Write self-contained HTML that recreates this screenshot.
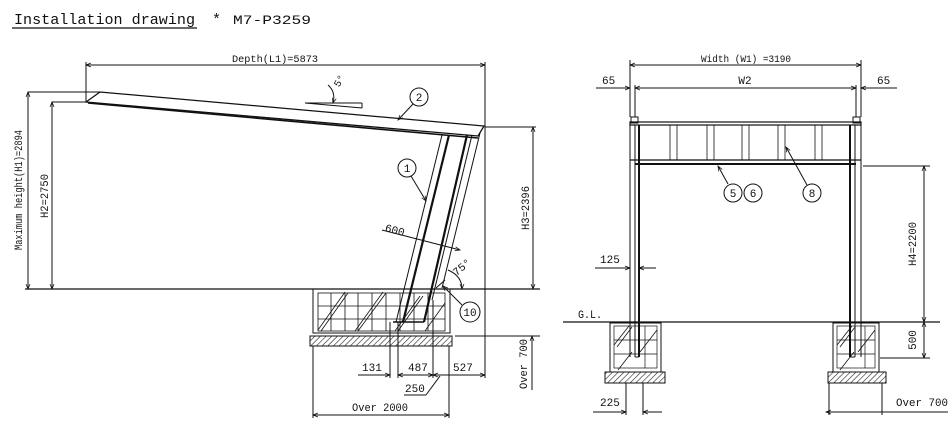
<!DOCTYPE html>
<html><head><meta charset="utf-8"><style>
html,body{margin:0;padding:0;background:#fff;}
svg{display:block;}
text{font-family:"Liberation Mono",monospace;fill:#111;}
</style></head><body>
<svg width="952" height="427" viewBox="0 0 952 427" xmlns="http://www.w3.org/2000/svg">
<defs>
<pattern id="h" width="4" height="4" patternUnits="userSpaceOnUse" patternTransform="rotate(45)">
<line x1="0" y1="0" x2="0" y2="4" stroke="#222" stroke-width="1.2"/></pattern>
<marker id="a" viewBox="0 0 10 10" refX="10" refY="5" markerWidth="7" markerHeight="5" orient="auto-start-reverse"><path d="M0,1 L10,5 L0,9" fill="none" stroke="#111" stroke-width="1.5"/></marker>
</defs>
<!-- title -->
<text x="14" y="24" font-size="15" textLength="181" lengthAdjust="spacingAndGlyphs">Installation drawing</text>
<line x1="12" y1="28" x2="197" y2="28" stroke="#111" stroke-width="1.2"/>
<text x="212" y="24" font-size="15">*</text>
<text x="233" y="24" font-size="13" textLength="78" lengthAdjust="spacingAndGlyphs">M7-P3259</text>

<g stroke="#111" fill="none" stroke-width="1">
<!-- LEFT VIEW -->
<line x1="86" y1="65" x2="485" y2="65" marker-start="url(#a)" marker-end="url(#a)"/>
<line x1="86" y1="62" x2="86" y2="102"/>
<line x1="485" y1="62" x2="485" y2="378"/>
<!-- roof -->
<path d="M86,102 L100,92 L484,126 L478,136 Z" stroke-width="1.3"/>
<line x1="88" y1="103" x2="478" y2="138" stroke-width="1.6"/>
<!-- heights -->
<line x1="28" y1="92" x2="100" y2="92"/>
<line x1="28" y1="92" x2="28" y2="289" marker-start="url(#a)" marker-end="url(#a)"/>
<line x1="52" y1="102" x2="86" y2="102"/>
<line x1="52" y1="102" x2="52" y2="289" marker-start="url(#a)" marker-end="url(#a)"/>
<line x1="25" y1="289" x2="540" y2="289" stroke-width="1.3"/>
<line x1="485" y1="127" x2="536" y2="127"/>
<line x1="533" y1="127" x2="533" y2="289" marker-start="url(#a)" marker-end="url(#a)"/>
<!-- 5 deg mark -->
<line x1="305" y1="103" x2="362" y2="103"/>
<line x1="305" y1="103" x2="362" y2="108"/>
<line x1="362" y1="103" x2="362" y2="108"/>
<path d="M328,85 Q336,92 333,103" marker-end="url(#a)"/>
<!-- posts -->
<line x1="442" y1="135" x2="396" y2="322"/>
<line x1="449" y1="135" x2="403" y2="322" stroke-width="2.2"/>
<line x1="467" y1="135" x2="424" y2="322" stroke-width="2.2"/>
<line x1="472" y1="135" x2="432" y2="300"/>
<line x1="480" y1="133" x2="442" y2="288"/>
<line x1="436" y1="288" x2="445" y2="280"/>
<!-- foundation -->
<rect x="313" y="289" width="137" height="44"/>
<rect x="318" y="293" width="127" height="38" stroke-width="0.8"/>
<g stroke-width="0.8">
<line x1="318" y1="306" x2="445" y2="306"/><line x1="318" y1="319" x2="445" y2="319"/>
<line x1="331" y1="293" x2="331" y2="331"/><line x1="345" y1="293" x2="345" y2="331"/><line x1="358" y1="293" x2="358" y2="331"/><line x1="372" y1="293" x2="372" y2="331"/><line x1="386" y1="293" x2="386" y2="331"/><line x1="400" y1="293" x2="400" y2="331"/><line x1="414" y1="293" x2="414" y2="331"/><line x1="428" y1="293" x2="428" y2="331"/>
<line x1="318" y1="330" x2="345" y2="292"/><line x1="321" y1="331" x2="348" y2="293"/>
<line x1="355" y1="331" x2="383" y2="292"/><line x1="358" y1="331" x2="386" y2="293"/>
<line x1="395" y1="331" x2="420" y2="296"/><line x1="398" y1="331" x2="423" y2="296"/>
<line x1="425" y1="331" x2="445" y2="303"/>
</g>
<line x1="393" y1="322" x2="424" y2="322" stroke-width="1.6"/>
<rect x="310" y="336" width="142" height="10" fill="url(#h)"/>
<!-- left dims -->
<line x1="390" y1="322" x2="390" y2="378"/><line x1="398" y1="322" x2="398" y2="378"/><line x1="433" y1="300" x2="433" y2="378"/>
<line x1="358" y1="375" x2="390" y2="375" marker-end="url(#a)"/>
<line x1="398" y1="375" x2="433" y2="375" marker-start="url(#a)" marker-end="url(#a)"/>
<line x1="433" y1="375" x2="485" y2="375" marker-start="url(#a)" marker-end="url(#a)"/>
<line x1="404" y1="395" x2="426" y2="395"/><line x1="426" y1="395" x2="440" y2="376"/>
<line x1="313" y1="346" x2="313" y2="418"/><line x1="449" y1="346" x2="449" y2="418"/>
<line x1="313" y1="415" x2="449" y2="415" marker-start="url(#a)" marker-end="url(#a)"/>
<line x1="455" y1="336" x2="540" y2="336"/>
<line x1="532" y1="336" x2="532" y2="390" marker-start="url(#a)"/>
<!-- callouts left -->
<circle cx="419" cy="97" r="9"/><line x1="413" y1="104" x2="398" y2="120" marker-end="url(#a)"/>
<circle cx="407" cy="168" r="9"/><line x1="411" y1="176" x2="426" y2="201" marker-end="url(#a)"/>
<line x1="382" y1="230" x2="460" y2="250" marker-end="url(#a)"/>
<path d="M448,270 Q462,276 462,289" marker-end="url(#a)"/>
<circle cx="470" cy="312" r="10"/><line x1="462" y1="305" x2="443" y2="286" marker-end="url(#a)"/>

<!-- RIGHT VIEW -->
<line x1="630" y1="65" x2="861" y2="65" marker-start="url(#a)" marker-end="url(#a)"/>
<line x1="596" y1="88" x2="630" y2="88" marker-end="url(#a)"/>
<line x1="635" y1="88" x2="856" y2="88" marker-start="url(#a)" marker-end="url(#a)"/>
<line x1="897" y1="88" x2="861" y2="88" marker-end="url(#a)"/>
<line x1="630" y1="60" x2="630" y2="117"/><line x1="635" y1="85" x2="635" y2="117"/>
<line x1="856" y1="85" x2="856" y2="117"/><line x1="861" y1="60" x2="861" y2="117"/>
<rect x="631" y="117" width="7" height="6"/><rect x="853" y="117" width="7" height="6"/>
<rect x="630" y="122" width="231" height="3" stroke-width="1.2"/>
<line x1="630" y1="160" x2="861" y2="160" stroke-width="1.3"/>
<line x1="635" y1="164" x2="856" y2="164" stroke-width="2"/>
<g stroke-width="0.8">
<line x1="670" y1="125" x2="670" y2="160"/><line x1="677" y1="125" x2="677" y2="160"/>
<line x1="707" y1="125" x2="707" y2="160"/><line x1="714" y1="125" x2="714" y2="160"/>
<line x1="742" y1="125" x2="742" y2="160"/><line x1="749" y1="125" x2="749" y2="160"/>
<line x1="778" y1="125" x2="778" y2="160"/><line x1="785" y1="125" x2="785" y2="160"/>
<line x1="815" y1="125" x2="815" y2="160"/><line x1="822" y1="125" x2="822" y2="160"/>
</g>
<!-- posts -->
<line x1="630" y1="122" x2="630" y2="357"/><line x1="635" y1="125" x2="635" y2="357"/>
<line x1="639" y1="125" x2="639" y2="357" stroke-width="2"/>
<line x1="635" y1="357" x2="639" y2="357"/>
<line x1="861" y1="122" x2="861" y2="357"/><line x1="855" y1="125" x2="855" y2="357"/>
<line x1="850" y1="125" x2="850" y2="357" stroke-width="2"/>
<line x1="850" y1="357" x2="855" y2="357"/>
<!-- circles -->
<circle cx="733" cy="193" r="9"/><circle cx="753" cy="193" r="9"/><circle cx="812" cy="193" r="9"/>
<line x1="728" y1="184" x2="718" y2="166" marker-end="url(#a)"/>
<line x1="807" y1="185" x2="786" y2="147" marker-end="url(#a)"/>
<!-- H4 -->
<line x1="863" y1="166" x2="930" y2="166"/>
<line x1="924" y1="166" x2="924" y2="322" marker-start="url(#a)" marker-end="url(#a)"/>
<line x1="924" y1="322" x2="924" y2="358" marker-start="url(#a)" marker-end="url(#a)"/>
<line x1="880" y1="358" x2="930" y2="358"/>
<!-- GL -->
<line x1="563" y1="322" x2="940" y2="322" stroke-width="1.2"/>
<!-- 125 -->
<line x1="595" y1="268" x2="630" y2="268" marker-end="url(#a)"/>
<line x1="656" y1="268" x2="639" y2="268" marker-end="url(#a)"/>
<!-- foundations -->
<rect x="610" y="323" width="51" height="49"/>
<rect x="614" y="326" width="43" height="42" stroke-width="0.7"/>
<line x1="614" y1="340" x2="657" y2="340" stroke-width="0.7"/><line x1="614" y1="354" x2="657" y2="354" stroke-width="0.7"/>
<line x1="645" y1="326" x2="645" y2="368" stroke-width="0.7"/>
<line x1="614" y1="345" x2="629" y2="326" stroke-width="0.8"/><line x1="617" y1="347" x2="632" y2="327" stroke-width="0.8"/>
<line x1="640" y1="352" x2="657" y2="330" stroke-width="0.8"/><line x1="618" y1="370" x2="632" y2="352" stroke-width="0.8"/>
<rect x="605" y="372" width="60" height="11" fill="url(#h)"/>
<rect x="833" y="323" width="46" height="49"/>
<rect x="837" y="326" width="38" height="42" stroke-width="0.7"/>
<line x1="837" y1="340" x2="875" y2="340" stroke-width="0.7"/><line x1="837" y1="354" x2="875" y2="354" stroke-width="0.7"/>
<line x1="865" y1="326" x2="865" y2="368" stroke-width="0.7"/>
<line x1="837" y1="345" x2="852" y2="326" stroke-width="0.8"/><line x1="840" y1="347" x2="855" y2="327" stroke-width="0.8"/>
<line x1="858" y1="352" x2="875" y2="330" stroke-width="0.8"/><line x1="840" y1="370" x2="854" y2="352" stroke-width="0.8"/>
<rect x="828" y="372" width="58" height="11" fill="url(#h)"/>
<!-- bottom dims -->
<line x1="626" y1="383" x2="626" y2="415"/><line x1="643" y1="383" x2="643" y2="415"/>
<line x1="593" y1="412" x2="626" y2="412" marker-end="url(#a)"/>
<line x1="662" y1="412" x2="643" y2="412" marker-end="url(#a)"/>
<line x1="829" y1="383" x2="829" y2="415"/><line x1="882" y1="383" x2="882" y2="415"/>
<line x1="826" y1="412" x2="948" y2="412" marker-start="url(#a)"/>
</g>

<g font-size="11">
<text x="232" y="62" font-size="10" textLength="86" lengthAdjust="spacingAndGlyphs">Depth(L1)=5873</text>
<text transform="translate(22,190) rotate(-90)" text-anchor="middle" font-size="11" textLength="120" lengthAdjust="spacingAndGlyphs">Maximum height(H1)=2894</text>
<text transform="translate(48,196) rotate(-90)" text-anchor="middle" textLength="44" lengthAdjust="spacingAndGlyphs">H2=2750</text>
<text transform="translate(529,208) rotate(-90)" text-anchor="middle" textLength="44" lengthAdjust="spacingAndGlyphs">H3=2396</text>
<text x="334" y="87" transform="rotate(-60 337 83)" font-size="10">5°</text>
<text x="419" y="101" text-anchor="middle">2</text>
<text x="407" y="172" text-anchor="middle">1</text>
<text x="385" y="234" transform="rotate(15 396 230)">600</text>
<text x="452" y="272" transform="rotate(-40 460 268)">75°</text>
<text x="470" y="316" text-anchor="middle">10</text>
<text x="362" y="371">131</text>
<text x="408" y="371">487</text>
<text x="453" y="371">527</text>
<text x="405" y="392">250</text>
<text x="352" y="411" textLength="56" lengthAdjust="spacingAndGlyphs">Over 2000</text>
<text transform="translate(527,364) rotate(-90)" text-anchor="middle" textLength="50" lengthAdjust="spacingAndGlyphs">Over 700</text>

<text x="746" y="62" text-anchor="middle" font-size="10" textLength="90" lengthAdjust="spacingAndGlyphs">Width (W1) =3190</text>
<text x="602" y="84">65</text>
<text x="877" y="84">65</text>
<text x="745" y="84" text-anchor="middle">W2</text>
<text x="733" y="197" text-anchor="middle">5</text>
<text x="753" y="197" text-anchor="middle">6</text>
<text x="812" y="197" text-anchor="middle">8</text>
<text transform="translate(916,244) rotate(-90)" text-anchor="middle" textLength="44" lengthAdjust="spacingAndGlyphs">H4=2200</text>
<text transform="translate(916,340) rotate(-90)" text-anchor="middle">500</text>
<text x="578" y="318" textLength="24" lengthAdjust="spacingAndGlyphs">G.L.</text>
<text x="600" y="263">125</text>
<text x="600" y="406">225</text>
<text x="896" y="406" textLength="52" lengthAdjust="spacingAndGlyphs">Over 700</text>
</g>
</svg>
</body></html>
